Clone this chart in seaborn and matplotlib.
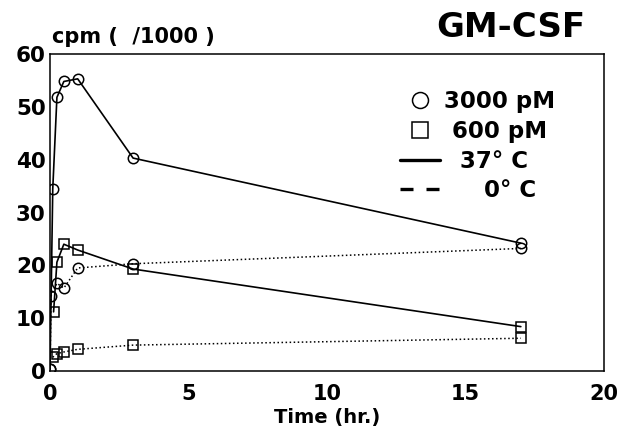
import pandas as pd
import matplotlib
matplotlib.use('Agg')
import matplotlib.pyplot as plt
from matplotlib.lines import Line2D
import seaborn as sns

# Values (time in hours, cpm / 1000)
t_3000_37 = [0, 0.1, 0.25, 0.5, 1, 3, 17]
cpm_3000_37 = [0.3, 34.5, 51.8, 54.8, 55.3, 40.3, 24.2]

t_3000_0 = [0, 0.04, 0.25, 0.5, 1, 3, 17]
cpm_3000_0 = [0.3, 14.2, 16.6, 15.7, 19.5, 20.3, 23.2]

t_600_37 = [0.13, 0.25, 0.5, 1, 3, 17]
cpm_600_37 = [11.2, 20.6, 24.0, 22.9, 19.3, 8.4]

t_600_0 = [0.1, 0.25, 0.5, 1, 3, 17]
cpm_600_0 = [2.6, 3.3, 3.6, 4.1, 4.9, 6.2]

x_ticks = [0, 5, 10, 15, 20]
y_ticks = [0, 10, 20, 30, 40, 50, 60]

series = [
    (t_3000_37, cpm_3000_37, 'o', '-', 1.2),
    (t_3000_0, cpm_3000_0, 'o', ':', 1.1),
    (t_600_37, cpm_600_37, 's', '-', 1.2),
    (t_600_0, cpm_600_0, 's', ':', 1.1),
]

sns.set_style('white')
plt.rcParams['font.family'] = ['DejaVu Sans']
plt.rcParams['text.color'] = 'black'

fig = plt.figure(figsize=(6.21, 4.32), dpi=100)
ax = fig.add_axes([0.0805, 0.1412, 0.892, 0.7338])

for t, v, mk, ls, lw in series:
    df = pd.DataFrame({'time': t, 'cpm': v})
    sns.lineplot(data=df, x='time', y='cpm', ax=ax, color='black',
                 linestyle=ls, linewidth=lw, marker=mk, markersize=7.5,
                 markerfacecolor='none', markeredgecolor='black',
                 markeredgewidth=1.1, estimator=None, sort=False)

ax.set_xlim(0, 20)
ax.set_ylim(0, 60)
ax.set_xticks(x_ticks)
ax.set_yticks(y_ticks)
ax.set_xticklabels([str(v) for v in x_ticks], fontsize=15, fontweight='bold')
ax.set_yticklabels([str(v) for v in y_ticks], fontsize=15.5, fontweight='bold')
ax.tick_params(direction='in', length=4, width=1, colors='black', pad=3)
ax.tick_params(axis='x', pad=9)
for s in ax.spines.values():
    s.set_color('black')
    s.set_linewidth(1.1)

ax.set_xlabel('Time (hr.)', fontsize=14, fontweight='bold', labelpad=3,
              color='black')
ax.set_ylabel('')
ax.text(0.003, 1.035, 'cpm (  /1000 )', transform=ax.transAxes, fontsize=15,
        fontweight='bold', ha='left', va='baseline', color='black')
ax.text(0.966, 1.054, 'GM-CSF', transform=ax.transAxes, fontsize=24.5,
        fontweight='bold', ha='right', va='baseline', color='black')

handles = [
    Line2D([], [], color='black', marker='o', linestyle='none', markersize=11.5,
           markerfacecolor='none', markeredgewidth=1.1),
    Line2D([], [], color='black', marker='s', linestyle='none', markersize=12,
           markerfacecolor='none', markeredgewidth=1.1),
    Line2D([], [], color='black', linestyle='-', linewidth=2.4),
    Line2D([], [], color='black', linestyle=(0, (3.9, 3.9)), linewidth=2.4),
]
labels = ['3000 pM', ' 600 pM', '  37° C', '     0° C']
leg = ax.legend(handles, labels, loc='upper left', bbox_to_anchor=(0.632, 0.885),
                frameon=False, borderpad=0, borderaxespad=0,
                handlelength=1.75, handletextpad=0.15, labelspacing=0.29,
                prop={'size': 16.5, 'weight': 'bold'})
for txt in leg.get_texts():
    txt.set_color('black')

fig.savefig('out.png', dpi=100)
